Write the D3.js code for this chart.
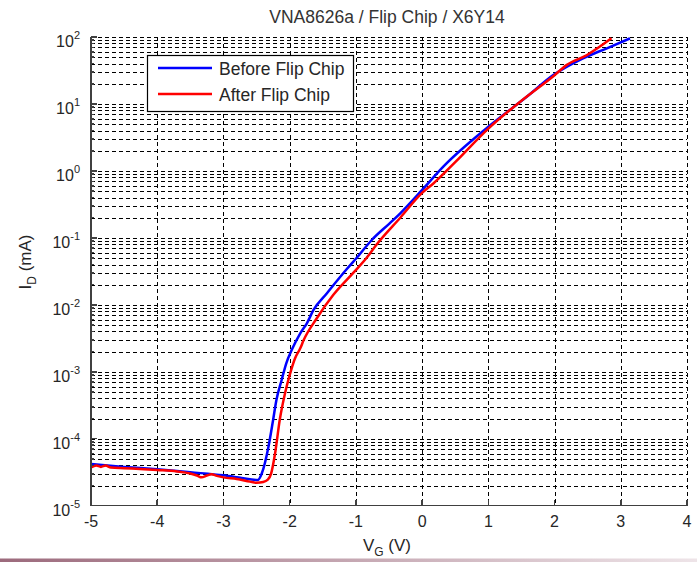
<!DOCTYPE html>
<meta charset="utf-8">
<style>
body { margin: 0; background: #fff; }
text { font-family: "Liberation Sans", Arial, sans-serif; fill: #262626; }
.grid line { stroke: #000; stroke-width: 1; stroke-dasharray: 4,3; shape-rendering: crispEdges; }
.axis line { stroke: #404040; stroke-width: 1.5; shape-rendering: crispEdges; }
</style>
<body>
<script src="https://cdn.jsdelivr.net/npm/d3@7"></script>
<script>

// Before Flip Chip (blue) : gate voltage (V) and drain current (mA)
var vgBefore = [-5, -4.5, -4, -3.5, -3, -2.8, -2.6, -2.48, -2.42, -2.32, -2.25, -2.2, -2.12, -2.05, -1.97,
                -1.84, -1.74, -1.64, -1.44, -1.14, -0.99, -0.76, -0.49, -0.33, 0, 0.32, 1.0, 1.58, 1.98, 2.43, 2.79, 3.14];
var idBefore = [4.2e-5, 3.8e-5, 3.5e-5, 3.16e-5, 2.84e-5, 2.66e-5, 2.48e-5, 2.42e-5, 3.05e-5, 7.6e-5, 1.91e-4, 3.8e-4, 7.6e-4, 1.35e-3, 2.11e-3,
                3.76e-3, 5.3e-3, 8.4e-3, 1.48e-2, 3.4e-2, 5.0e-2, 9.3e-2, 0.165, 0.233, 0.52, 1.16, 4.57, 12.8, 27.0, 48.1, 67.8, 95.5];

// After Flip Chip (red)
var vgAfter = [-5, -4.92, -4.85, -4.78, -4.7, -4.5, -4.2, -4, -3.7, -3.5, -3.4, -3.33, -3.25, -3.18, -3.1, -3,
               -2.8, -2.6, -2.5, -2.4, -2.33, -2.28, -2.22, -2.15, -2.07, -2.0, -1.92, -1.84, -1.79, -1.59, -1.34,
               -1.04, -0.84, -0.69, -0.33, 0, 0.17, 0.5, 1.0, 1.5, 2.0, 2.18, 2.49, 2.86];
var idAfter = [3.72e-5, 3.98e-5, 3.8e-5, 3.98e-5, 3.72e-5, 3.63e-5, 3.51e-5, 3.41e-5, 3.24e-5, 3.02e-5, 2.82e-5, 2.65e-5, 2.82e-5, 2.94e-5, 2.79e-5, 2.65e-5,
               2.51e-5, 2.29e-5, 2.2e-5, 2.26e-5, 2.45e-5, 3.02e-5, 6.07e-5, 1.91e-4, 4.79e-4, 8.9e-4, 1.58e-3, 2.24e-3, 2.95e-3, 6.3e-3, 1.41e-2,
               3.0e-2, 5.0e-2, 7.9e-2, 0.20, 0.47, 0.65, 1.35, 4.27, 11.2, 26.9, 38.0, 53.8, 95.5];

var xTicks = [-5, -4, -3, -2, -1, 0, 1, 2, 3, 4];
var yExponents = [-5, -4, -3, -2, -1, 0, 1, 2];
var seriesNames = ["Before Flip Chip", "After Flip Chip"];
var seriesColors = ["#0000ff", "#ff0000"];

var margin = {top: 37, right: 10, bottom: 56.3, left: 91},
    W = 697, H = 562,
    width = W - margin.left - margin.right,
    height = H - margin.top - margin.bottom;

var svg = d3.select("body").append("svg")
    .attr("width", W)
    .attr("height", H);

var x = d3.scaleLinear().domain([-5, 4]).range([0, width]);
var y = d3.scaleLog().domain([1e-5, 1e2]).range([height, 0]);

var g = svg.append("g")
    .attr("transform", "translate(" + margin.left + "," + margin.top + ")");

// minor + major horizontal grid
var yGridVals = [];
yExponents.forEach(function(e) {
  if (e === 2) { yGridVals.push(100); return; }
  for (var m = 1; m < 10; m++) yGridVals.push(m * Math.pow(10, e));
});

var grid = g.append("g").attr("class", "grid");
grid.selectAll(".hg")
    .data(yGridVals.filter(function(v) { return v > 1e-5; }))
  .enter().append("line")
    .attr("x1", 0).attr("x2", width)
    .attr("y1", function(d) { return Math.round(y(d)) + 0.5; })
    .attr("y2", function(d) { return Math.round(y(d)) + 0.5; });

grid.selectAll(".vg")
    .data(xTicks.slice(1))
  .enter().append("line")
    .attr("y1", 0).attr("y2", height)
    .attr("x1", function(d) { return Math.round(x(d)) + 0.5; })
    .attr("x2", function(d) { return Math.round(x(d)) + 0.5; });

// curves
var line = d3.line()
    .curve(d3.curveMonotoneX)
    .x(function(d) { return x(d[0]); })
    .y(function(d) { return y(d[1]); });

var before = d3.zip(vgBefore, idBefore),
    after = d3.zip(vgAfter, idAfter);

g.append("path").datum(before)
    .attr("fill", "none").attr("stroke", seriesColors[0])
    .attr("stroke-width", 2.5).attr("stroke-linejoin", "round")
    .attr("d", line);

g.append("path").datum(after)
    .attr("fill", "none").attr("stroke", seriesColors[1])
    .attr("stroke-width", 2.5).attr("stroke-linejoin", "round")
    .attr("d", line);

// axes (left + bottom only)
var axis = g.append("g").attr("class", "axis");
axis.append("line").attr("x1", 0).attr("x2", 0).attr("y1", 0).attr("y2", height);
axis.append("line").attr("x1", 0).attr("x2", width).attr("y1", height).attr("y2", height);

axis.selectAll(".xt")
    .data(xTicks)
  .enter().append("line")
    .attr("x1", function(d) { return x(d); })
    .attr("x2", function(d) { return x(d); })
    .attr("y1", height).attr("y2", height - 6);

axis.selectAll(".yt")
    .data(yGridVals)
  .enter().append("line")
    .attr("x1", 0)
    .attr("x2", function(d) { return Math.abs(Math.log10(d) % 1) < 1e-9 ? 6 : 3; })
    .attr("y1", function(d) { return y(d); })
    .attr("y2", function(d) { return y(d); });

// tick labels
g.selectAll(".xl")
    .data(xTicks)
  .enter().append("text")
    .attr("x", function(d) { return x(d); })
    .attr("y", height + 21.5)
    .attr("text-anchor", "middle")
    .style("font-size", "16px")
    .text(function(d) { return d; });

var yl = g.selectAll(".yl")
    .data(yExponents)
  .enter().append("text")
    .attr("x", -11)
    .attr("y", function(d) { return y(Math.pow(10, d)) + 10; })
    .attr("text-anchor", "end")
    .style("font-size", "16px");
yl.append("tspan").text("10");
yl.append("tspan")
    .attr("dy", -8)
    .style("font-size", "11px")
    .text(function(d) { return d; });

// title and axis labels
svg.append("text")
    .attr("x", 387).attr("y", 23)
    .attr("text-anchor", "middle")
    .style("font-size", "17.5px")
    .style("fill", "#333")
    .text("VNA8626a / Flip Chip / X6Y14");

var xlab = svg.append("text")
    .attr("x", 387).attr("y", 551)
    .attr("text-anchor", "middle")
    .style("font-size", "17px");
xlab.append("tspan").text("V");
xlab.append("tspan").attr("dy", 5).style("font-size", "12px").text("G");
xlab.append("tspan").attr("dy", -5).text(" (V)");

var ylab = svg.append("text")
    .attr("transform", "translate(31,262) rotate(-90)")
    .attr("text-anchor", "middle")
    .style("font-size", "17px");
ylab.append("tspan").text("I");
ylab.append("tspan").attr("dy", 5).style("font-size", "12px").text("D");
ylab.append("tspan").attr("dy", -5).text(" (mA)");

// legend
var lg = svg.append("g").attr("transform", "translate(147,55)");
lg.append("rect")
    .attr("x", 0.5).attr("y", 0.5)
    .attr("width", 206).attr("height", 56)
    .attr("fill", "#fff").attr("stroke", "#000").attr("stroke-width", 1.2);
var items = lg.selectAll(".li")
    .data(seriesNames)
  .enter().append("g")
    .attr("transform", function(d, i) { return "translate(0," + (13 + i * 26) + ")"; });
items.append("line")
    .attr("x1", 11).attr("x2", 65)
    .attr("stroke", function(d, i) { return seriesColors[i]; })
    .attr("stroke-width", 2.5);
items.append("text")
    .attr("x", 72).attr("y", 6.5)
    .style("font-size", "17.5px")
    .text(function(d) { return d; });

// thin band at the bottom of the screenshot
var defs = svg.append("defs");
var grad = defs.append("linearGradient").attr("id", "band");
grad.append("stop").attr("offset", "0%").attr("stop-color", "#9c6a7c");
grad.append("stop").attr("offset", "100%").attr("stop-color", "#eee4e8");
svg.append("rect")
    .attr("x", 0).attr("y", 558.5)
    .attr("width", W).attr("height", 3.5)
    .attr("fill", "url(#band)");

</script>
</body>
</html>
